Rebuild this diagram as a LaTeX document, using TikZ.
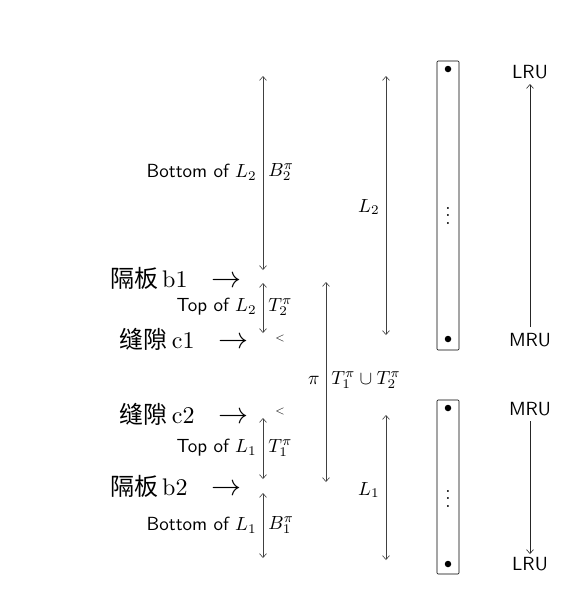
\documentclass[tikz,border=0pt]{standalone}
\usepackage{fontspec}
\usepackage{graphicx}
\newfontfamily\cjk{Noto Sans CJK SC}
\usetikzlibrary{arrows.meta}
\begin{document}
\begin{tikzpicture}[x=1pt,y=-1pt,
  every node/.style={inner sep=0pt},
  big/.style={scale=1.9},
  lab/.style={font=\sffamily, scale=1.9},
  cn/.style={scale=2.4, anchor=east},
  dimline/.style={{Straight Barb[length=4pt,width=7pt]}-{Straight Barb[length=4pt,width=7pt]}, line width=0.6pt, black!75},
  onearrow/.style={-{Straight Barb[length=4pt,width=7pt]}, line width=0.6pt, black!85},
  bucket/.style={draw, line width=0.6pt, rounded corners=1pt},
  dotmark/.style={circle, fill=black, minimum size=6.5pt, inner sep=0pt},
  small/.style={scale=1.2}]
\useasboundingbox (0,0) rectangle (573,590);

% left column coordinates
\coordinate (bL2a) at (263,76);  \coordinate (bL2b) at (263,270);
\coordinate (tL2a) at (263,283); \coordinate (tL2b) at (263,333);
\coordinate (tL1a) at (263,418); \coordinate (tL1b) at (263,479);
\coordinate (bL1a) at (263,493); \coordinate (bL1b) at (263,558);
\draw[dimline] (bL2a) -- (bL2b);
\draw[dimline] (tL2a) -- (tL2b);
\draw[dimline] (tL1a) -- (tL1b);
\draw[dimline] (bL1a) -- (bL1b);

\node[lab, anchor=east] (nbL2) at (257,172) {Bottom of $L_2$};
\node[big, anchor=west] (nB2) at (268,172) {$B_2^\pi$};
\node[lab, anchor=east] (ntL2) at (257,307) {Top of $L_2$};
\node[big, anchor=west] (nT2) at (268,307) {$T_2^\pi$};
\node[lab, anchor=east] (ntL1) at (257,448) {Top of $L_1$};
\node[big, anchor=west] (nT1) at (268,448) {$T_1^\pi$};
\node[lab, anchor=east] (nbL1) at (257,525) {Bottom of $L_1$};
\node[big, anchor=west] (nB1) at (268,525) {$B_1^\pi$};

\node[small] (lt1) at (280,338) {$<$};
\node[small] (lt2) at (280,411) {$<$};

% Chinese labels
\node[cn] (b1) at (242,278) {{\cjk 隔板}\,b1\quad\scalebox{1.25}{$\rightarrow$}};
\node[cn] (c1) at (249,339) {{\cjk 缝隙}\,c1\quad\scalebox{1.25}{$\rightarrow$}};
\node[cn] (c2) at (249,414) {{\cjk 缝隙}\,c2\quad\scalebox{1.25}{$\rightarrow$}};
\node[cn] (b2) at (242,486) {{\cjk 隔板}\,b2\quad\scalebox{1.25}{$\rightarrow$}};

% pi arrow
\coordinate (pia) at (326,282); \coordinate (pib) at (326,482);
\draw[dimline] (pia) -- (pib);
\node[big, anchor=east] (npi) at (320,380) {$\pi$};
\node[big, anchor=west] (nTT) at (331,380) {$T_1^\pi\cup T_2^\pi$};

% L2, L1 arrows
\coordinate (L2a) at (386,76);  \coordinate (L2b) at (386,335);
\coordinate (L1a) at (386,415); \coordinate (L1b) at (386,560);
\draw[dimline] (L2a) -- (L2b);
\draw[dimline] (L1a) -- (L1b);
\node[big, anchor=east] (nL2) at (380,207) {$L_2$};
\node[big, anchor=east] (nL1) at (380,490) {$L_1$};

% buckets
\draw[bucket] (437,61) rectangle (459,350);
\draw[bucket] (437,400) rectangle (459,574);
\node[dotmark] (d1) at (448,69) {};
\node[dotmark] (d2) at (448,339) {};
\node[dotmark] (d3) at (448,408) {};
\node[dotmark] (d4) at (448,564) {};
\node[big] (vd1) at (448,210) {$\vdots$};
\node[big] (vd2) at (448,493) {$\vdots$};

% LRU / MRU
\node[lab] (lru1) at (530,72) {LRU};
\node[lab] (mru1) at (530,340) {MRU};
\node[lab] (mru2) at (530,409) {MRU};
\node[lab] (lru2) at (530,564) {LRU};
\coordinate (u1) at (530,327); \coordinate (u2) at (530,84);
\coordinate (w1) at (530,421); \coordinate (w2) at (530,554);
\draw[onearrow] (u1) -- (u2);
\draw[onearrow] (w1) -- (w2);
\end{tikzpicture}
\end{document}
